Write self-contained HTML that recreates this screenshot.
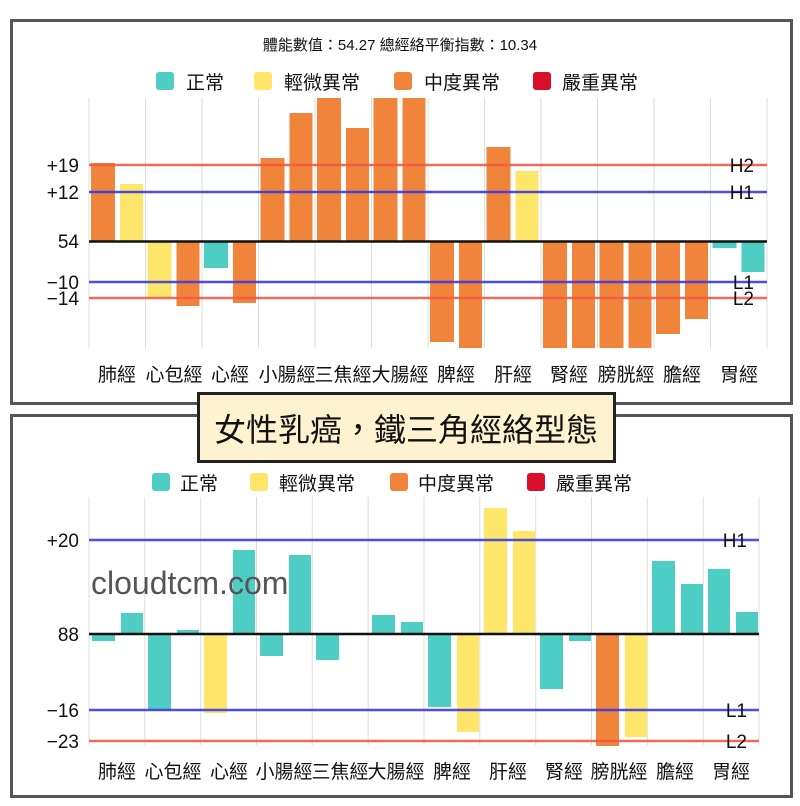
<!DOCTYPE html>
<html><head><meta charset="utf-8"><style>
html,body{margin:0;padding:0;background:#fff;}
svg{display:block;}
text{font-family:"Liberation Sans","Noto Sans CJK TC",sans-serif;fill:#111;}
</style></head><body>
<svg width="800" height="806" viewBox="0 0 800 806" xmlns="http://www.w3.org/2000/svg">
<rect x="0" y="0" width="800" height="806" fill="#fff"/>
<rect x="11.5" y="20.5" width="780" height="383" fill="#fff" stroke="#555" stroke-width="3"/>
<rect x="11.5" y="415.5" width="780" height="381" fill="#fff" stroke="#555" stroke-width="3"/>

<!-- TOP CHART -->
<text x="400" y="50" font-size="15" text-anchor="middle">體能數值：54.27 總經絡平衡指數：10.34</text>
<g font-size="19">
<rect x="156" y="72" width="18" height="18" rx="3" fill="#4ecdc4"/><text x="186" y="89">正常</text>
<rect x="254" y="72" width="18" height="18" rx="3" fill="#fde66a"/><text x="284" y="89">輕微異常</text>
<rect x="394" y="72" width="18" height="18" rx="3" fill="#f0843a"/><text x="424" y="89">中度異常</text>
<rect x="533" y="72" width="18" height="18" rx="3" fill="#d8102c"/><text x="562" y="89">嚴重異常</text>
</g>
<g stroke="#ddd" stroke-width="1">
<line x1="89" y1="98" x2="89" y2="348"/><line x1="145.5" y1="98" x2="145.5" y2="348"/><line x1="202" y1="98" x2="202" y2="348"/><line x1="258.5" y1="98" x2="258.5" y2="348"/><line x1="315" y1="98" x2="315" y2="348"/><line x1="371.5" y1="98" x2="371.5" y2="348"/><line x1="428" y1="98" x2="428" y2="348"/><line x1="484.5" y1="98" x2="484.5" y2="348"/><line x1="541" y1="98" x2="541" y2="348"/><line x1="597.5" y1="98" x2="597.5" y2="348"/><line x1="654" y1="98" x2="654" y2="348"/><line x1="710.5" y1="98" x2="710.5" y2="348"/><line x1="767" y1="98" x2="767" y2="348"/>
</g>
<g>
<rect x="91" y="163" width="24" height="78" fill="#f0843a"/>
<rect x="120" y="184" width="23" height="57" fill="#fde66a"/>
<rect x="147.5" y="241" width="24" height="56" fill="#fde66a"/>
<rect x="176.5" y="241" width="23" height="65" fill="#f0843a"/>
<rect x="204" y="241" width="24" height="27" fill="#4ecdc4"/>
<rect x="233" y="241" width="23" height="62" fill="#f0843a"/>
<rect x="260.5" y="158" width="24" height="83" fill="#f0843a"/>
<rect x="289.5" y="113" width="23" height="128" fill="#f0843a"/>
<rect x="317" y="98" width="24" height="143" fill="#f0843a"/>
<rect x="346" y="128" width="23" height="113" fill="#f0843a"/>
<rect x="373.5" y="98" width="24" height="143" fill="#f0843a"/>
<rect x="402.5" y="98" width="23" height="143" fill="#f0843a"/>
<rect x="430" y="241" width="24" height="101" fill="#f0843a"/>
<rect x="459" y="241" width="23" height="107" fill="#f0843a"/>
<rect x="486.5" y="147" width="24" height="94" fill="#f0843a"/>
<rect x="515.5" y="171" width="23" height="70" fill="#fde66a"/>
<rect x="543" y="241" width="24" height="107" fill="#f0843a"/>
<rect x="572" y="241" width="23" height="107" fill="#f0843a"/>
<rect x="599.5" y="241" width="24" height="107" fill="#f0843a"/>
<rect x="628.5" y="241" width="23" height="107" fill="#f0843a"/>
<rect x="656" y="241" width="24" height="93" fill="#f0843a"/>
<rect x="685" y="241" width="23" height="78" fill="#f0843a"/>
<rect x="712.5" y="241" width="24" height="7" fill="#4ecdc4"/>
<rect x="741.5" y="241" width="23" height="31" fill="#4ecdc4"/>
</g>
<line x1="89" y1="165" x2="767" y2="165" stroke="#f05a4a" stroke-width="2.5" opacity="0.9"/>
<line x1="89" y1="192" x2="767" y2="192" stroke="#3a3ae0" stroke-width="2.5" opacity="0.9"/>
<line x1="89" y1="241.5" x2="767" y2="241.5" stroke="#111" stroke-width="2.5"/>
<line x1="89" y1="282" x2="767" y2="282" stroke="#3a3ae0" stroke-width="2.5" opacity="0.9"/>
<line x1="89" y1="298" x2="767" y2="298" stroke="#f05a4a" stroke-width="2.5" opacity="0.9"/>
<g font-size="19" text-anchor="end">
<text x="79" y="172">+19</text><text x="79" y="199">+12</text><text x="79" y="248">54</text><text x="79" y="289">−10</text><text x="79" y="305">−14</text>
<text x="754" y="172">H2</text><text x="754" y="199">H1</text><text x="754" y="289">L1</text><text x="754" y="305">L2</text>
</g>
<g font-size="19" text-anchor="middle">
<text x="117" y="381">肺經</text><text x="174" y="381">心包經</text><text x="230" y="381">心經</text><text x="287" y="381">小腸經</text><text x="343" y="381">三焦經</text><text x="400" y="381">大腸經</text><text x="456" y="381">脾經</text><text x="513" y="381">肝經</text><text x="569" y="381">腎經</text><text x="626" y="381">膀胱經</text><text x="682" y="381">膽經</text><text x="739" y="381">胃經</text>
</g>

<!-- BOTTOM CHART -->
<g font-size="19">
<rect x="152" y="473" width="18" height="18" rx="3" fill="#4ecdc4"/><text x="180" y="490">正常</text>
<rect x="250" y="473" width="18" height="18" rx="3" fill="#fde66a"/><text x="279" y="490">輕微異常</text>
<rect x="390" y="473" width="18" height="18" rx="3" fill="#f0843a"/><text x="418" y="490">中度異常</text>
<rect x="527" y="473" width="18" height="18" rx="3" fill="#d8102c"/><text x="556" y="490">嚴重異常</text>
</g>
<g stroke="#ddd" stroke-width="1">
<line x1="89" y1="497" x2="89" y2="745"/><line x1="144.8" y1="497" x2="144.8" y2="745"/><line x1="200.7" y1="497" x2="200.7" y2="745"/><line x1="256.5" y1="497" x2="256.5" y2="745"/><line x1="312.3" y1="497" x2="312.3" y2="745"/><line x1="368.2" y1="497" x2="368.2" y2="745"/><line x1="424" y1="497" x2="424" y2="745"/><line x1="479.8" y1="497" x2="479.8" y2="745"/><line x1="535.7" y1="497" x2="535.7" y2="745"/><line x1="591.5" y1="497" x2="591.5" y2="745"/><line x1="647.3" y1="497" x2="647.3" y2="745"/><line x1="703.2" y1="497" x2="703.2" y2="745"/><line x1="759" y1="497" x2="759" y2="745"/>
</g>
<g>
<rect x="92" y="634" width="23" height="7" fill="#4ecdc4"/>
<rect x="121" y="613" width="22" height="21" fill="#4ecdc4"/>
<rect x="148" y="634" width="23" height="76" fill="#4ecdc4"/>
<rect x="177" y="630" width="22" height="4" fill="#4ecdc4"/>
<rect x="204" y="634" width="23" height="79" fill="#fde66a"/>
<rect x="233" y="550" width="22" height="84" fill="#4ecdc4"/>
<rect x="260" y="634" width="23" height="22" fill="#4ecdc4"/>
<rect x="289" y="555" width="22" height="79" fill="#4ecdc4"/>
<rect x="316" y="634" width="23" height="26" fill="#4ecdc4"/>
<rect x="372" y="615" width="23" height="19" fill="#4ecdc4"/>
<rect x="401" y="622" width="22" height="12" fill="#4ecdc4"/>
<rect x="428" y="634" width="23" height="73" fill="#4ecdc4"/>
<rect x="457" y="634" width="22" height="98" fill="#fde66a"/>
<rect x="484" y="508" width="23" height="126" fill="#fde66a"/>
<rect x="513" y="531" width="22" height="103" fill="#fde66a"/>
<rect x="540" y="634" width="23" height="55" fill="#4ecdc4"/>
<rect x="569" y="634" width="22" height="7" fill="#4ecdc4"/>
<rect x="596" y="634" width="23" height="112" fill="#f0843a"/>
<rect x="625" y="634" width="22" height="103" fill="#fde66a"/>
<rect x="652" y="561" width="23" height="73" fill="#4ecdc4"/>
<rect x="681" y="584" width="22" height="50" fill="#4ecdc4"/>
<rect x="708" y="569" width="22" height="65" fill="#4ecdc4"/>
<rect x="736" y="612" width="22" height="22" fill="#4ecdc4"/>
</g>
<text x="91" y="594" font-size="32" style="fill:#555">cloudtcm.com</text>
<line x1="89" y1="540" x2="759" y2="540" stroke="#3a3ae0" stroke-width="2.5" opacity="0.9"/>
<line x1="89" y1="634" x2="759" y2="634" stroke="#111" stroke-width="2.5"/>
<line x1="89" y1="710" x2="759" y2="710" stroke="#3a3ae0" stroke-width="2.5" opacity="0.9"/>
<line x1="89" y1="741" x2="759" y2="741" stroke="#f05a4a" stroke-width="2.5" opacity="0.9"/>
<g font-size="19" text-anchor="end">
<text x="79" y="547">+20</text><text x="79" y="641">88</text><text x="79" y="717">−16</text><text x="79" y="748">−23</text>
<text x="747" y="547">H1</text><text x="747" y="717">L1</text><text x="747" y="748">L2</text>
</g>
<g font-size="19" text-anchor="middle">
<text x="117" y="778">肺經</text><text x="173" y="778">心包經</text><text x="229" y="778">心經</text><text x="284" y="778">小腸經</text><text x="340" y="778">三焦經</text><text x="396" y="778">大腸經</text><text x="452" y="778">脾經</text><text x="508" y="778">肝經</text><text x="564" y="778">腎經</text><text x="619" y="778">膀胱經</text><text x="675" y="778">膽經</text><text x="731" y="778">胃經</text>
</g>

<rect x="198.5" y="393.5" width="416" height="68" fill="#fdf3d0" stroke="#222" stroke-width="3"/>
<text x="406" y="441" font-size="32" text-anchor="middle">女性乳癌，鐵三角經絡型態</text>
</svg>
</body></html>
